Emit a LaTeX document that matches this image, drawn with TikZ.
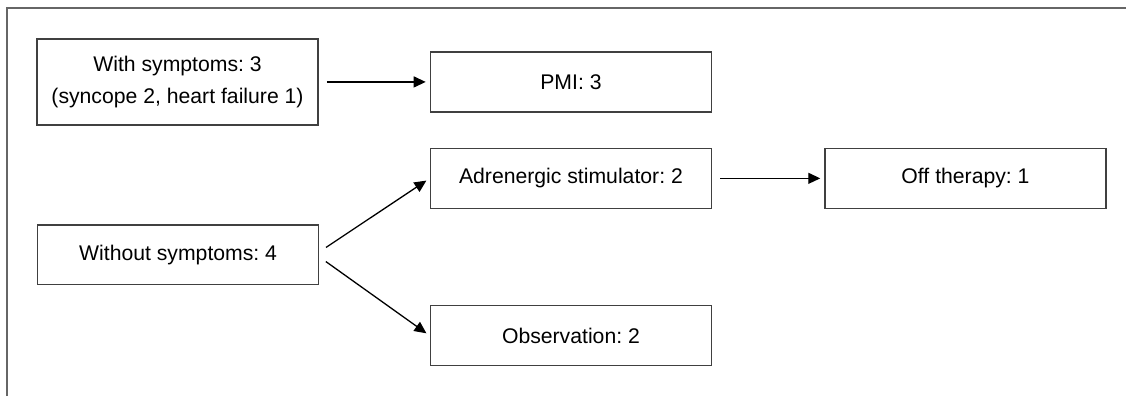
\documentclass[tikz,border=0pt]{standalone}
\usepackage{fontspec}
\setmainfont{Liberation Sans}
\frenchspacing
\usetikzlibrary{arrows.meta, positioning}
\colorlet{colBorde}{black!75}
\colorlet{colMarco}{black!60}
\tikzset{
  caja/.style={
    draw=colBorde, line width=0.7pt,
    minimum height=1.05cm, minimum width=4.94cm,
    align=center, font=\fontsize{10.6}{16}\selectfont, inner sep=2pt
  },
  flecha/.style={-{Triangle[length=6pt, width=5.5pt]}, line width=0.65pt, black,
    shorten <=4pt, shorten >=2pt},
  marco/.style={colMarco, line width=1pt},
}
\begin{document}
\begin{tikzpicture}
    \useasboundingbox (0,0) rectangle (19.79,-6.96);
    % marco: solo borde superior e izquierdo
    \draw[marco] (0.12,-6.96) -- (0.12,-0.14) -- (19.79,-0.14);

    \node[caja, minimum height=1.51cm] (con) at (3.12,-1.44) {With symptoms: 3\\(syncope 2, heart failure 1)};
    \node[caja, right=1.95cm of con] (pmi) {PMI: 3};
    \node[caja] (sin) at (3.13,-4.48) {Without symptoms: 4};
    \node[caja, below=0.62cm of pmi] (adr) {Adrenergic stimulator: 2};
    \node[caja, right=1.97cm of adr] (off) {Off therapy: 1};
    \node[caja, below=1.69cm of adr] (obs) {Observation: 2};

    \draw[flecha] (con) -- (pmi);
    \draw[flecha] (adr) -- (off);
    \draw[flecha] ([yshift=1.5pt]sin.east) -- (adr.west);
    \draw[flecha] ([yshift=-1pt]sin.east) -- (obs.west);
  \end{tikzpicture}
\end{document}
